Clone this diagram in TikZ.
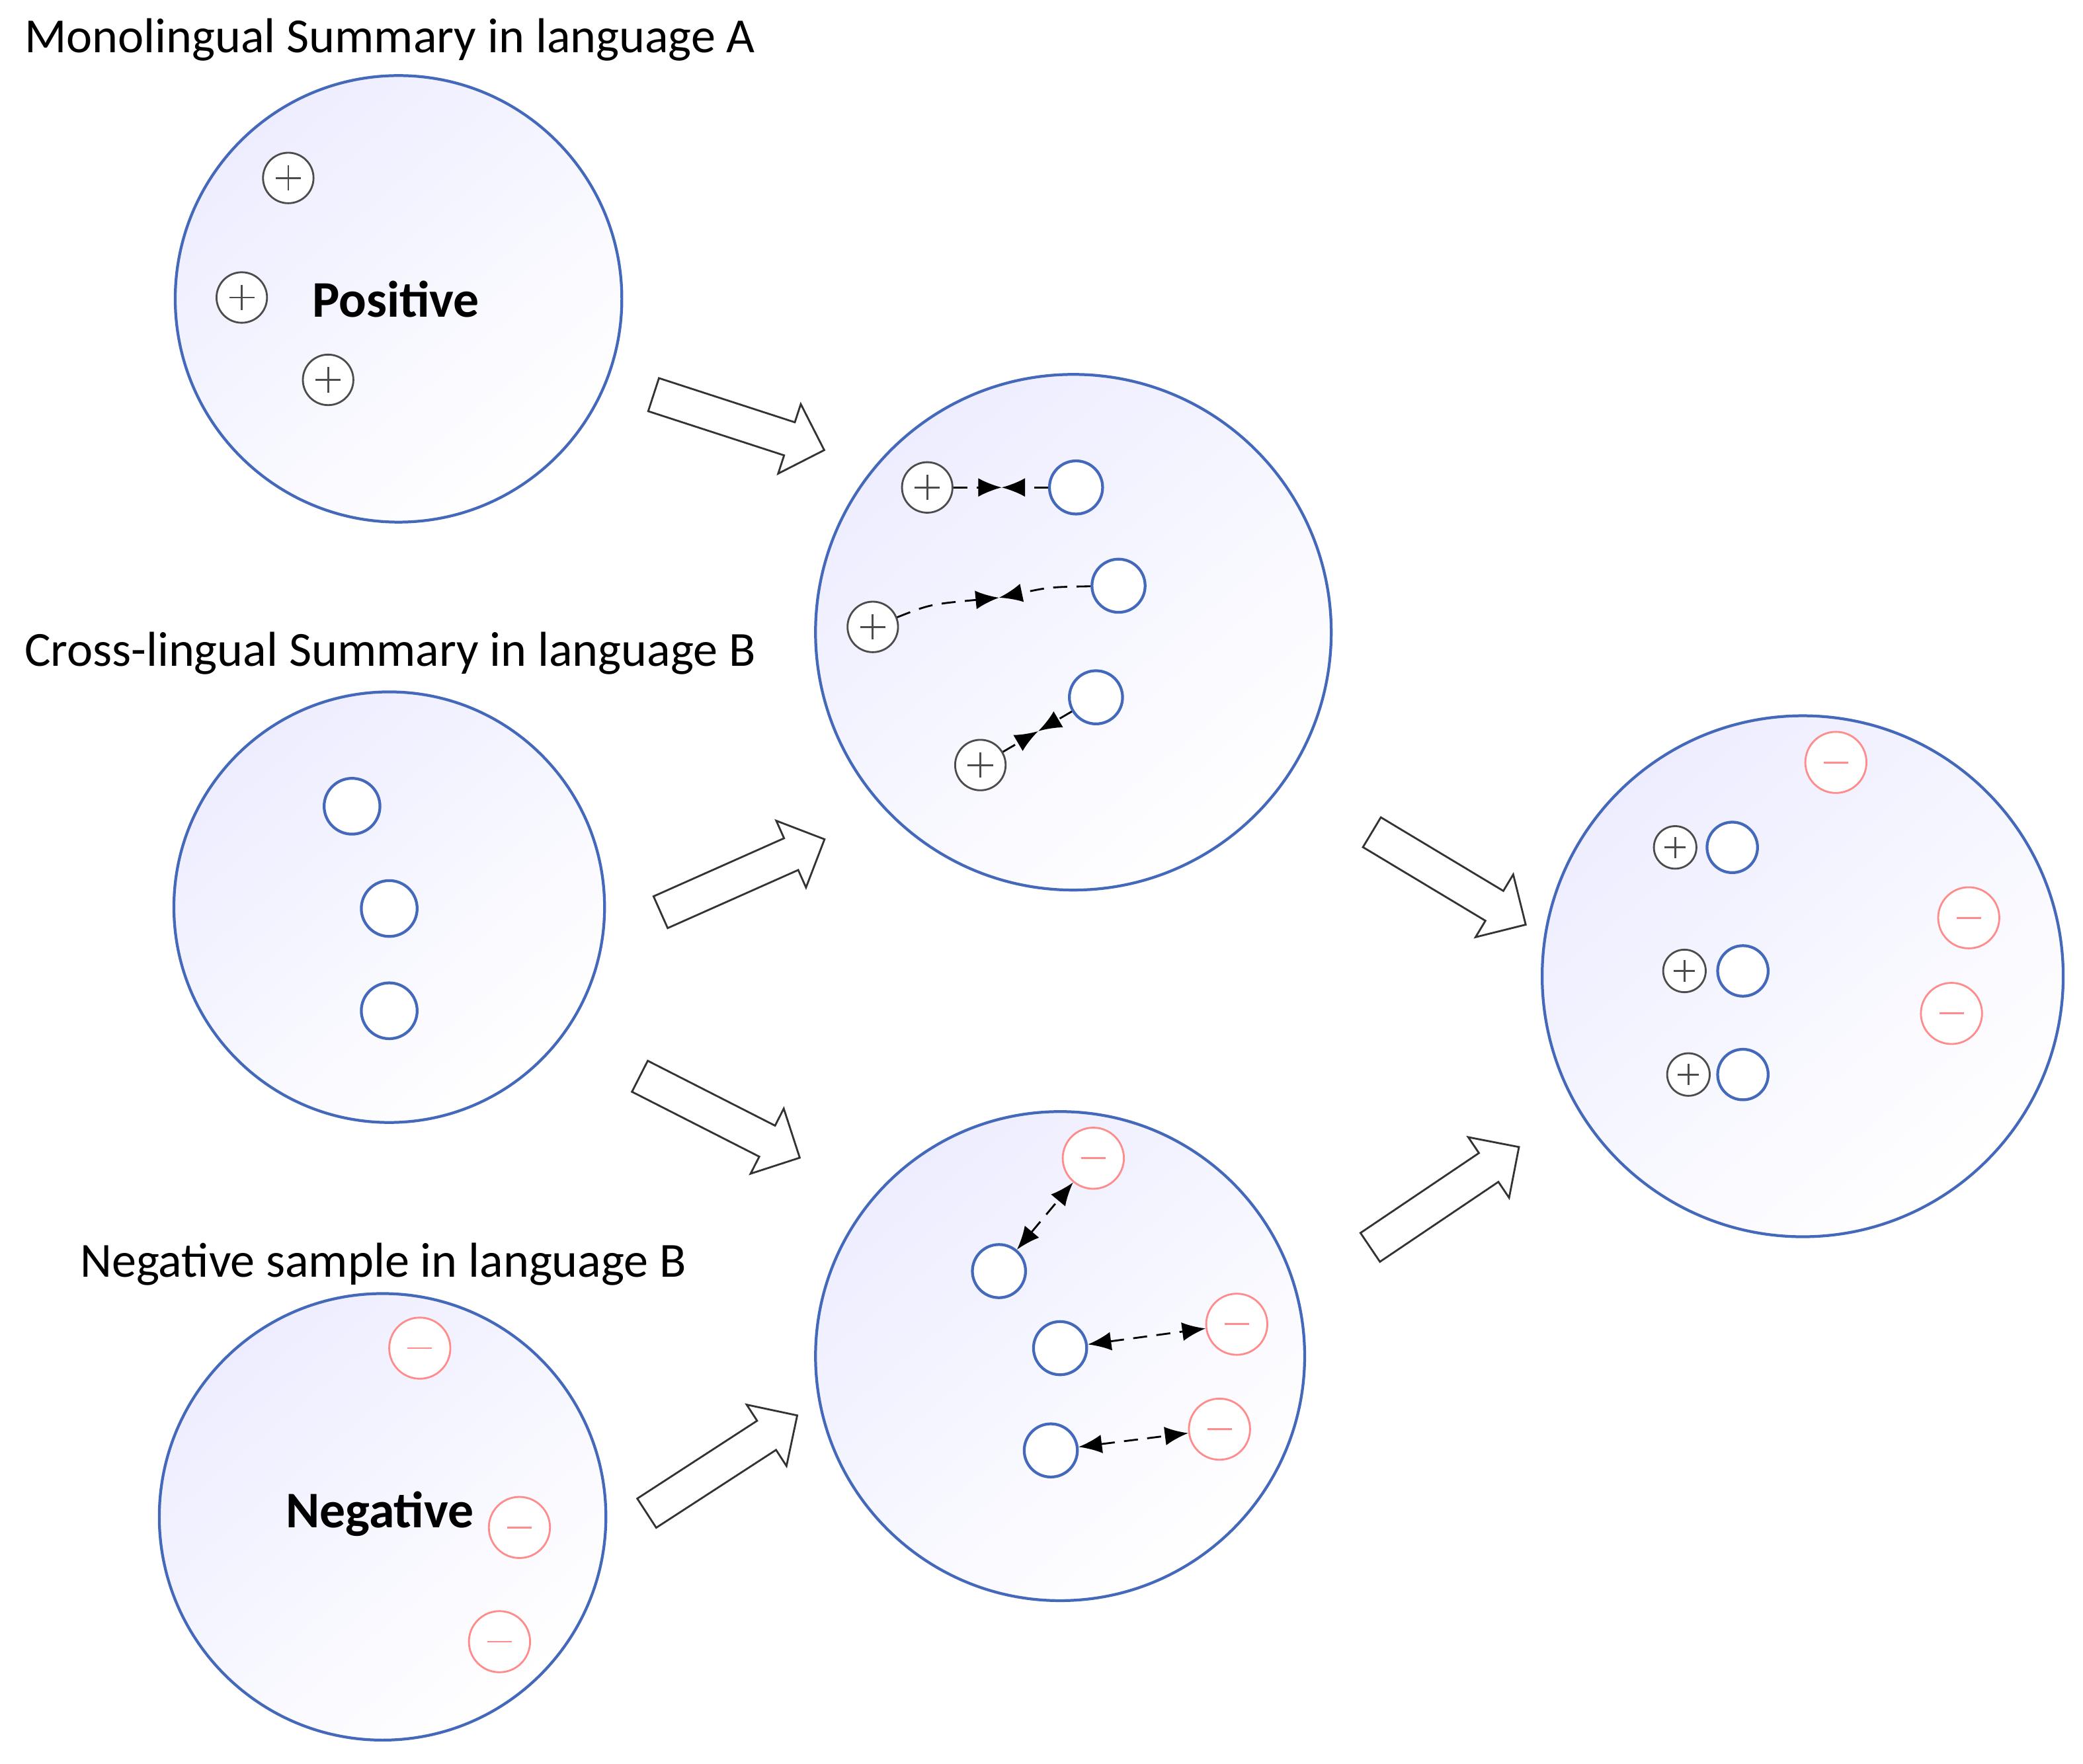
\documentclass[tikz,border=0pt]{standalone}
\usepackage{fontspec}
\setmainfont{Carlito}
\usetikzlibrary{shapes.arrows,arrows.meta,calc}
\definecolor{rim}{RGB}{68,104,186}
\tikzset{
  space/.style={circle, draw=rim, line width=0.6pt, top color=blue!7, bottom color=white, shading angle=40, inner sep=0pt},
  pos/.style={circle, draw=black!70, minimum size=#1, inner sep=0pt, fill=white,
    path picture={\draw[black!70] ($(path picture bounding box.west)!0.25!(path picture bounding box.east)$) -- ($(path picture bounding box.west)!0.75!(path picture bounding box.east)$)
      ($(path picture bounding box.south)!0.25!(path picture bounding box.north)$) -- ($(path picture bounding box.south)!0.75!(path picture bounding box.north)$);}},
  pos/.default=0.38cm,
  neg/.style={circle, draw=red!45, minimum size=0.46cm, inner sep=0pt, fill=white,
    path picture={\draw[red!45] ($(path picture bounding box.west)!0.3!(path picture bounding box.east)$) -- ($(path picture bounding box.west)!0.7!(path picture bounding box.east)$);}},
  emb/.style={circle, draw=rim, line width=0.6pt, minimum size=0.38cm, inner sep=0pt, fill=white},
  stage/.style={single arrow, draw=black!80, fill=white, minimum height=1.35cm, minimum width=0.55cm, single arrow head extend=0.14cm, inner sep=0.12cm},
  link/.style={densely dashed, -{Latex[length=5pt,width=4pt]}},
  title/.style={anchor=west, font=\fontsize{10.5}{12}\selectfont}
}
\begin{document}
\begin{tikzpicture}[x=0.01cm, y=-0.01cm]
  \useasboundingbox (0,0) rectangle (1568,1328);
  % spaces
  \node[space, minimum size=3.36cm] (mono) at (300,225) {};
  \node[space, minimum size=3.24cm] (cross) at (293,683) {};
  \node[space, minimum size=3.36cm] (nsamp) at (288,1142) {};
  \node[space, minimum size=3.88cm] (align) at (808,476) {};
  \node[space, minimum size=3.68cm] (push) at (798,1021) {};
  \node[space, minimum size=3.92cm] (final) at (1357,735) {};
  % titles
  \node[title] (t1) at (6,30) {Monolingual Summary in language A};
  \node[title] (t2) at (6,492) {Cross-lingual Summary in language B};
  \node[title] (t3) at (48,952) {Negative sample in language B};
  % language A
  \node[pos] (a1) at (217,134) {};
  \node[pos] (a2) at (182,224) {};
  \node[pos] (a3) at (247,286) {};
  \node[font=\fontsize{11}{13}\selectfont\bfseries] (lpos) at (298,225) {Positive};
  % language B
  \node[emb, minimum size=0.42cm] (b1) at (265,607) {};
  \node[emb, minimum size=0.42cm] (b2) at (293,684) {};
  \node[emb, minimum size=0.42cm] (b3) at (293,761) {};
  % negatives
  \node[neg] (n1) at (316,1015) {};
  \node[neg] (n2) at (391,1150) {};
  \node[neg] (n3) at (376,1236) {};
  \node[font=\fontsize{11}{13}\selectfont\bfseries] (lneg) at (286,1140) {Negative};
  % alignment
  \node[pos] (p1) at (698,367) {};
  \node[emb, minimum size=0.4cm] (e1) at (810,367) {};
  \node[pos] (p2) at (657,472) {};
  \node[emb, minimum size=0.4cm] (e2) at (842,441) {};
  \node[pos] (p3) at (738,576) {};
  \node[emb, minimum size=0.4cm] (e3) at (825,525) {};
  \coordinate (m1) at ($(p1)!0.5!(e1)$);
  \coordinate (m2) at (752,450);
  \coordinate (m3) at ($(p3)!0.5!(e3)$);
  \draw[link] (p1) -- (m1);
  \draw[link] (e1) -- (m1);
  \draw[link] (p2) .. controls (700,455) .. (m2);
  \draw[link] (e2) .. controls (790,442) .. (m2);
  \draw[link] (p3) -- (m3);
  \draw[link] (e3) -- (m3);
  % pushing apart
  \node[emb, minimum size=0.4cm] (f1) at (752,957) {};
  \node[neg] (q1) at (823,872) {};
  \node[emb, minimum size=0.4cm] (f2) at (798,1015) {};
  \node[neg] (q2) at (931,997) {};
  \node[emb, minimum size=0.4cm] (f3) at (791,1092) {};
  \node[neg] (q3) at (918,1076) {};
  \draw[densely dashed, {Latex[length=5pt,width=4pt]}-{Latex[length=5pt,width=4pt]}] (f1) -- (q1);
  \draw[densely dashed, {Latex[length=5pt,width=4pt]}-{Latex[length=5pt,width=4pt]}] (f2) -- (q2);
  \draw[densely dashed, {Latex[length=5pt,width=4pt]}-{Latex[length=5pt,width=4pt]}] (f3) -- (q3);
  % result
  \node[neg] (r0) at (1382,574) {};
  \node[neg] (r1) at (1482,691) {};
  \node[neg] (r2) at (1469,763) {};
  \node[pos=0.32cm] (s1) at (1261,638) {};
  \node[emb] (g1) at (1304,638) {};
  \node[pos=0.32cm] (s2) at (1268,731) {};
  \node[emb] (g2) at (1312,731) {};
  \node[pos=0.32cm] (s3) at (1271,809) {};
  \node[emb] (g3) at (1312,809) {};
  % stages
  \node[stage, rotate=-18] (s12) at (550,316) {};
  \node[stage, rotate=24] (s22) at (553,662) {};
  \node[stage, rotate=-27] (s23) at (536,838) {};
  \node[stage, rotate=33] (s33) at (538,1106) {};
  \node[stage, rotate=-31] (s46) at (1085,658) {};
  \node[stage, rotate=34] (s56) at (1082,905) {};
\end{tikzpicture}
\end{document}
